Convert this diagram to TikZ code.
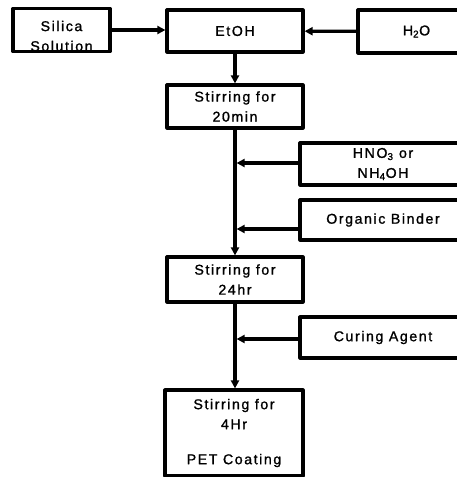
\documentclass[tikz,border=0pt]{standalone}
\usepackage{fontspec}
\setmainfont{Liberation Sans}[LetterSpace=11, FakeBold=1.2]
\usetikzlibrary{arrows.meta, positioning}

\begin{document}
\begin{tikzpicture}[x=1pt, y=-1pt, line cap=round, line join=round, >={Triangle[length=8pt,width=8pt]},
	box/.style={draw, line width=3.2pt, inner sep=0pt, align=center, font=\fontsize{14.2}{20}\selectfont},
	lbl/.style={align=center, font=\fontsize{14.2}{20}\selectfont},
	flow/.style={->, line width=3.2pt}]
	\useasboundingbox (0,0) rectangle (457,477);
	\clip (0,0) rectangle (457,477);

	% top row
	\node[box, minimum width=97pt, minimum height=43pt, label={[lbl, yshift=-6pt]center:Silica\\Solution}] (silica) at (61.5,30) {};
	\node[box, minimum width=136pt, minimum height=42pt] (etoh) at (235,31) {EtOH};
	\node[box, minimum width=117pt, minimum height=43pt] (water) at (416.5,31.5) {H\textsubscript{2}O};

	% stirring steps
	\node[box, minimum width=136pt, minimum height=43pt] (stir20) at (235,106.5) {Stirring for\\20min};
	\node[box, minimum width=136pt, minimum height=45pt] (stir24) at (235,279.5) {Stirring for\\24hr};
	\node[box, minimum width=138pt, minimum height=86pt] (stir4) at (234,433) {Stirring for\\4Hr\\[15pt]PET Coating};

	% additions on the right
	\node[box, minimum width=166pt, minimum height=42pt] (acid) at (383,164) {HNO\textsubscript{3} or\\NH\textsubscript{4}OH};
	\node[box, minimum width=166pt, minimum height=40pt] (binder) at (383,220) {Organic Binder};
	\node[box, minimum width=166pt, minimum height=41pt] (curing) at (383,337.5) {Curing Agent};

	% joints on the main line
	\coordinate (j0) at (235,30);
	\coordinate (j1) at (235,163);
	\coordinate (j2) at (235,229);
	\coordinate (j3) at (235,339);

	% connectors
	\draw[flow] (silica.east |- j0) -- (etoh.west |- j0);
	\draw[flow] (water) -- (etoh);
	\draw[flow] (etoh) -- (stir20);
	\draw[flow] (stir20) -- (stir24);
	\draw[flow] (stir24) -- (stir4.north -| stir24.south);
	\draw[flow, shorten >=1.6pt] (acid.west |- j1) -- (j1);
	\draw[flow, shorten >=1.6pt] (binder.west |- j2) -- (j2);
	\draw[flow, shorten >=1.6pt] (curing.west |- j3) -- (j3);
\end{tikzpicture}
\end{document}
